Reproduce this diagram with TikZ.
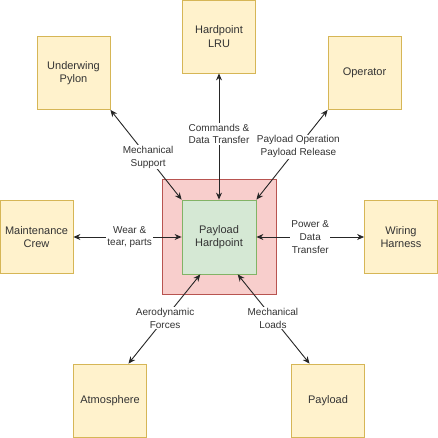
\documentclass[tikz,border=0pt]{standalone}
\usepackage{fontspec}
\setmainfont{Liberation Sans}
\usetikzlibrary{calc,arrows.meta}
\definecolor{extfill}{HTML}{FFF2CC}
\definecolor{extline}{HTML}{D6B656}
\definecolor{sysfill}{HTML}{F8CECC}
\definecolor{sysline}{HTML}{B85450}
\definecolor{hpfill}{HTML}{D5E8D4}
\definecolor{hpline}{HTML}{82B366}

\begin{document}
\begin{tikzpicture}[x=1pt, y=-1pt,
		ext/.style={draw=extline, fill=extfill, line width=0.8pt, minimum width=73pt, minimum height=73pt, inner sep=0pt, align=center, text=black!80, font=\fontsize{11}{13.2}\selectfont},
		flow/.style={{Stealth[length=7pt,width=6pt]}-{Stealth[length=7pt,width=6pt]}, line width=0.9pt, draw=black!85},
		lbl/.style={fill=white, inner sep=1pt, align=center, text=black!80, font=\fontsize{10}{12.7}\selectfont}]
			%%%%% START %%%%%
			
			\fill[white] (0, 0) rectangle (438, 438);
			\useasboundingbox (0, 0) rectangle (438, 438);
			
			\node[draw=sysline, fill=sysfill, line width=0.8pt, minimum width=114pt, minimum height=115pt] (sys) at (219, 236.5) {};
			\node[draw=hpline, fill=hpfill, line width=0.8pt, minimum width=74pt, minimum height=74pt, align=center, text=black!80, font=\fontsize{11}{13.2}\selectfont] (hp) at (219, 237) {Payload\\Hardpoint};
			
			\node[ext] (lru) at (219, 36.5) {Hardpoint\\LRU};
			\node[ext] (pylon) at (73.5, 73) {Underwing\\Pylon};
			\node[ext] (operator) at (364.5, 73) {Operator};
			\node[ext] (crew) at (36.5, 237) {Maintenance\\Crew};
			\node[ext] (harness) at (401, 237) {Wiring\\Harness};
			\node[ext] (atmos) at (110, 400.5) {Atmosphere};
			\node[ext] (payload) at (328, 400.5) {Payload};
			
			\coordinate (hpbl) at ($(hp.south west)!0.25!(hp.south east)$);
			\coordinate (hpbr) at ($(hp.south west)!0.75!(hp.south east)$);
			\coordinate (atmostop) at ($(atmos.north west)!0.75!(atmos.north east)$);
			\coordinate (payloadtop) at ($(payload.north west)!0.25!(payload.north east)$);
			
			\draw[flow] (lru.south) -- (hp.north) node[lbl, pos=0.48] {Commands \&\\Data Transfer};
			\draw[flow] (pylon.south east) -- (hp.north west) node[lbl, pos=0.53] {Mechanical\\Support};
			\draw[flow] (operator.south west) -- (hp.north east) node[lbl, pos=0.41] {Payload Operation\\Payload Release};
			\draw[flow] (crew.east) -- (hp.west) node[lbl, pos=0.52] {Wear \&\\tear, parts};
			\draw[flow] (hp.east) -- (harness.west) node[lbl, pos=0.5] {Power \&\\Data\\Transfer};
			\draw[flow] (hpbl) -- (atmostop) node[lbl, pos=0.49] {Aerodynamic\\Forces};
			\draw[flow] (hpbr) -- (payloadtop) node[lbl, pos=0.49] {Mechanical\\Loads};
			
			%%%%% END %%%%%
		\end{tikzpicture}
\end{document}
